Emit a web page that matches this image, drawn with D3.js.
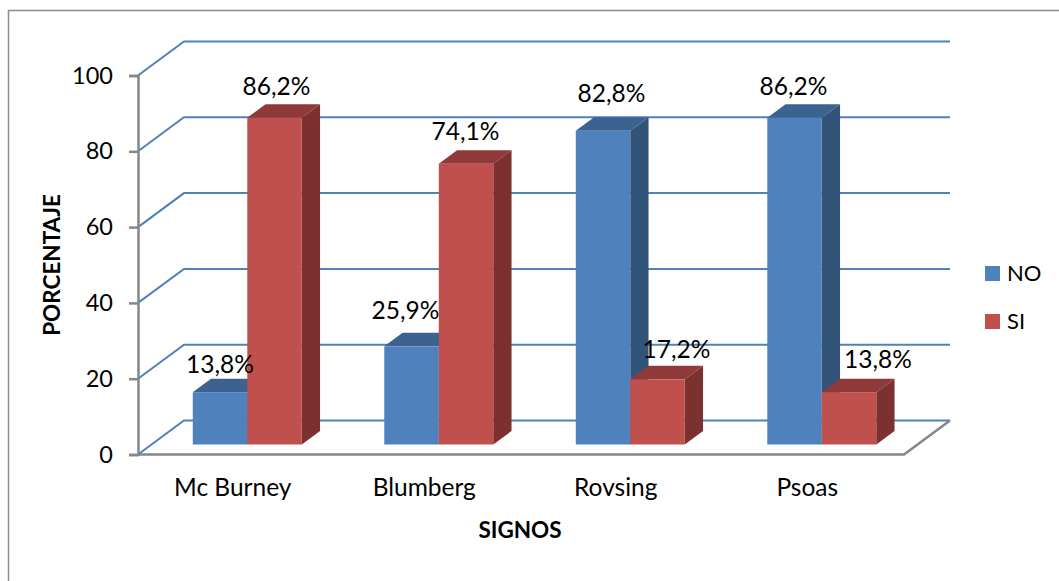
<!DOCTYPE html>
<html>
<head>
<meta charset="utf-8">
<script src="https://cdn.jsdelivr.net/npm/d3@7"></script>
<style>
    html, body { margin: 0; padding: 0; background: #fff; }
    text { font-family: Lato, "Open Sans", sans-serif; fill: #000; }
</style>
</head>
<body>
<svg id="chart" width="1059" height="581"></svg>
<script>
const CATEGORIES = ['Mc Burney', 'Blumberg', 'Rovsing', 'Psoas'];
const SERIES_NAMES = ['NO', 'SI'];
const NO_VALUES = [13.8, 25.9, 82.8, 86.2];
const SI_VALUES = [86.2, 74.1, 17.2, 13.8];
const Y_TICKS = [0, 20, 40, 60, 80, 100];

const COLORS = {
    NO: {front: '#4f81bd', top: '#3c6390', side: '#325479'},
    SI: {front: '#c0504d', top: '#8f3a38', side: '#7b3130'}
};
const GRID = '#4f81bd';
const AXIS = '#868686';

// hand nudges for the value labels, same order as the bars are drawn
const LABEL_NUDGE = [
    [-2, 3], [0, 0],
    [-8, -5], [-2.5, -1],
    [6.5, -6], [17, 1],
    [-3, 0], [27, -2]
];

const svg = d3.select('#chart');

// frame of the chart area
svg.append('path')
    .attr('d', 'M8.5,581V10.5H1059')
    .attr('fill', 'none')
    .attr('stroke', '#8c8c8c')
    .attr('stroke-width', 1.5);

const y = d3.scaleLinear().domain([0, 100]).range([454.5, 75.5]);
const x0 = d3.scaleBand().domain(CATEGORIES).range([138, 904]);
const x1 = d3.scaleBand().domain(SERIES_NAMES).range([0, 109]);

// oblique offset of the back wall
const DEPTH_X = 46, DEPTH_Y = -34;
// how far into the floor the bars stand, and how deep they are
const BAR_START = 10 / 34, BAR_DEPTH = 13.5 / 34;

// grid lines on side wall and back wall
const grid = svg.append('g');
grid.selectAll('path')
    .data(Y_TICKS)
    .join('path')
    .attr('d', t => `M${x0.range()[0]},${y(t)}l${DEPTH_X},${DEPTH_Y}H${x0.range()[1] + DEPTH_X}`)
    .attr('fill', 'none')
    .attr('stroke', GRID)
    .attr('stroke-width', 2);

// floor front and right edge
svg.append('path')
    .attr('d', `M${x0.range()[0]},${y(0)}H${x0.range()[1]}l${DEPTH_X},${DEPTH_Y}`)
    .attr('fill', 'none')
    .attr('stroke', AXIS)
    .attr('stroke-width', 2.5);

// y axis
const yAxis = svg.append('g')
    .attr('transform', `translate(${x0.range()[0]},0)`)
    .call(d3.axisLeft(y).tickValues(Y_TICKS).tickSize(9).tickPadding(16));
yAxis.selectAll('path, line').attr('stroke', AXIS).attr('stroke-width', 2.5);
yAxis.selectAll('text').attr('font-size', 23.5).style('font-family', 'Lato, sans-serif');

const bars = [];
CATEGORIES.forEach((c, i) => {
    bars.push({cat: c, s: 'NO', v: NO_VALUES[i]});
    bars.push({cat: c, s: 'SI', v: SI_VALUES[i]});
});

const startX = DEPTH_X * BAR_START, startY = DEPTH_Y * BAR_START;
const dx = DEPTH_X * BAR_DEPTH, dy = DEPTH_Y * BAR_DEPTH;
const OUTER = (x0.bandwidth() - x1.range()[1]) / 2;

const barG = svg.append('g').selectAll('g')
    .data(bars)
    .join('g')
    .attr('transform', d => `translate(${x0(d.cat) + OUTER + x1(d.s) + startX},${startY})`);

// side
barG.append('path')
    .attr('d', d => {
        const w = x1.bandwidth();
        return `M${w},${y(d.v)}l${dx},${dy}V${y(0) + dy}l${-dx},${-dy}Z`;
    })
    .attr('fill', d => COLORS[d.s].side);
// top
barG.append('path')
    .attr('d', d => {
        const w = x1.bandwidth();
        return `M0,${y(d.v)}l${dx},${dy}h${w}l${-dx},${-dy}Z`;
    })
    .attr('fill', d => COLORS[d.s].top);
// front
barG.append('rect')
    .attr('x', 0)
    .attr('y', d => y(d.v))
    .attr('width', x1.bandwidth())
    .attr('height', d => y(0) - y(d.v))
    .attr('fill', d => COLORS[d.s].front);

// value labels, on top of every bar
svg.append('g').selectAll('text')
    .data(bars)
    .join('text')
    .attr('x', (d, i) => x0(d.cat) + OUTER + x1(d.s) + startX + x1.bandwidth() / 2 + 2 + LABEL_NUDGE[i][0])
    .attr('y', (d, i) => y(d.v) + startY + dy - 9 + LABEL_NUDGE[i][1])
    .attr('text-anchor', 'middle')
    .attr('font-size', 24.5)
    .text(d => d.v.toFixed(1).replace('.', ',') + '%');

// category labels
svg.append('g').selectAll('text')
    .data(CATEGORIES)
    .join('text')
    .attr('x', c => x0(c) + x0.bandwidth() / 2 - 1)
    .attr('y', 496)
    .attr('text-anchor', 'middle')
    .attr('font-size', 24.5)
    .text(c => c);

// axis titles
svg.append('text')
    .attr('x', 520).attr('y', 538)
    .attr('text-anchor', 'middle')
    .attr('font-size', 22.5).attr('font-weight', 700)
    .text('SIGNOS');
svg.append('text')
    .attr('transform', 'translate(60,265) rotate(-90)')
    .attr('text-anchor', 'middle')
    .attr('font-size', 22.5).attr('font-weight', 700)
    .text('PORCENTAJE');

// legend
const legendY = d3.scalePoint().domain(SERIES_NAMES).range([273.5, 321.5]);
const legend = svg.append('g').selectAll('g')
    .data(SERIES_NAMES)
    .join('g')
    .attr('transform', s => `translate(985,${legendY(s)})`);
legend.append('rect')
    .attr('y', -7.5)
    .attr('width', 15).attr('height', 15)
    .attr('fill', s => COLORS[s].front);
legend.append('text')
    .attr('x', 22).attr('y', 7.5)
    .attr('font-size', 22)
    .text(s => s);
</script>
</body>
</html>
